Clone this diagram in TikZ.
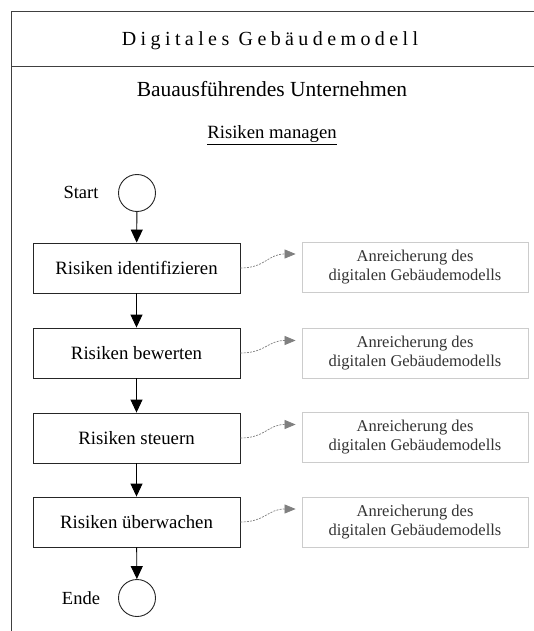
\documentclass[tikz,border=0pt]{standalone}
\usepackage{fontspec}
\setmainfont{Liberation Serif}
\usetikzlibrary{arrows.meta}
\begin{document}
\begin{tikzpicture}[x=1pt,y=-1pt,
  frame/.style={draw=black!75, line width=0.9pt},
  stepbox/.style={draw=black!85, line width=0.9pt, minimum width=207pt, minimum height=50pt, inner sep=0pt, font=\fontsize{18.8}{22}\selectfont},
  infobox/.style={draw=black!20, line width=0.8pt, minimum width=226pt, minimum height=50pt, inner sep=0pt, align=center, text=black!80, font=\fontsize{16.5}{19}\selectfont},
  evt/.style={circle, draw=black!85, line width=0.9pt, minimum size=37pt, inner sep=0pt},
  lbl/.style={font=\fontsize{18.5}{22}\selectfont},
  flow/.style={draw=black, line width=0.9pt, -{Triangle[width=12pt,length=13pt]}},
  enrich/.style={draw=black!55, dashed, dash pattern=on 2pt off 1.2pt, line width=0.7pt, -{Triangle[width=9pt,length=11pt]}, color=black!50}
]
\useasboundingbox (0,0) rectangle (534,631);
\fill[white] (0,0) rectangle (534,631);
% frame
\draw[frame] (534,11) -- (11,11) -- (11,631);
\draw[frame] (11,66) -- (534,66);
\node (title) at (270,41) {\fontsize{20}{24}\selectfont\addfontfeatures{LetterSpace=22}Digitales Gebäudemodell};
\node (bau) at (272,89) {\fontsize{21.5}{24}\selectfont Bauausführendes Unternehmen};
\node (managen) at (272,135) {\fontsize{18.7}{22}\selectfont\underline{Risiken managen}};
% events
\node[evt] (start) at (137,193) {};
\node[lbl] (startlbl) at (81,192) {Start};
\node[evt] (ende) at (137,598) {};
\node[lbl] (endelbl) at (81,598) {Ende};
% steps
\node[stepbox] (r1) at (136.5,268) {Risiken identifizieren};
\node[stepbox] (r2) at (136.5,353) {Risiken bewerten};
\node[stepbox] (r3) at (136.5,438) {Risiken steuern};
\node[stepbox] (r4) at (136.5,522) {Risiken überwachen};
% info boxes
\foreach \i/\y in {1/267,2/353.5,3/437.5,4/522}{
  \node[infobox] (a\i) at (415,\y) {Anreicherung des\\digitalen Gebäudemodells};
}
% flow
\draw[flow] (start) -- (r1);
\draw[flow] (r1) -- (r2);
\draw[flow] (r2) -- (r3);
\draw[flow] (r3) -- (r4);
\draw[flow] (r4) -- (ende);
% enrichment connectors
\foreach \i in {1,2,3,4}{
  \draw[enrich] (r\i.east) .. controls +(25,0) and +(-28,0) .. ([xshift=-6pt,yshift=13pt]a\i.west);
}
\end{tikzpicture}
\end{document}
